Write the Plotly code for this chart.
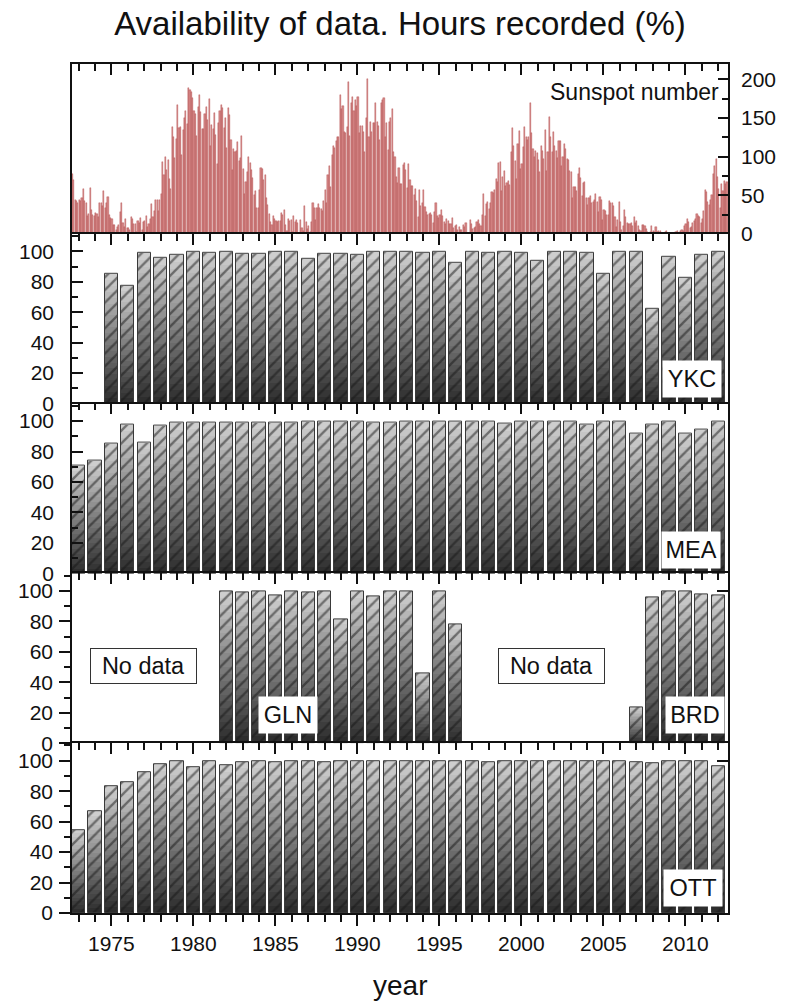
import plotly.graph_objects as go

# ---------------------------------------------------------------------------
# Data
# ---------------------------------------------------------------------------
years = list(range(1973, 2013))

# Hours recorded per year (%) for each observatory (None = no data)
ykc = [None, None, 85.1, 77.6, 99.1, 95.8, 97.4,                       # 1973-1979
       99.6, 98.9, 100.0, 98.3, 98.3, 99.6, 99.6, 95.1, 98.3, 98.5,     # 1980-1989
       97.8, 99.6, 99.6, 100.0, 99.3, 100.0, 92.3, 99.6, 99.1, 99.8,    # 1990-1999
       99.1, 93.9, 99.8, 99.8, 99.3, 85.3, 99.6, 99.6, 62.0, 96.7,      # 2000-2009
       82.7, 97.4, 100.0]                                               # 2010-2012

mea = [71.0, 74.1, 85.5, 98.0, 86.2, 97.2, 99.1,
       99.3, 99.3, 99.3, 99.3, 99.3, 99.3, 99.3, 99.8, 99.8, 99.8,
       99.6, 98.7, 99.3, 99.8, 99.8, 99.8, 99.8, 99.8, 99.6, 98.5,
       99.8, 99.8, 99.8, 99.8, 97.4, 99.8, 99.6, 91.9, 97.6, 99.6,
       91.9, 94.3, 100.0]

gln = [None, None, None, None, None, None, None,
       None, None, 99.5, 99.1, 99.8, 97.3, 100.0, 99.1, 99.8, 81.6,
       99.5, 96.4, 100.0, 100.0, 46.0, 100.0, 78.2, None, None, None,
       None, None, None, None, None, None, None, None, None, None,
       None, None, None]

brd = [None, None, None, None, None, None, None,
       None, None, None, None, None, None, None, None, None, None,
       None, None, None, None, None, None, None, None, None, None,
       None, None, None, None, None, None, None, 23.3, 96.0, 100.0,
       99.8, 97.8, 96.9]

ott = [54.6, 66.8, 83.0, 86.0, 92.6, 97.6, 99.8,
       95.7, 99.8, 97.2, 99.3, 99.8, 99.3, 99.6, 99.6, 99.1, 99.8,
       100.0, 99.6, 99.8, 99.8, 99.6, 99.8, 99.8, 99.8, 99.1, 99.8,
       99.8, 100.0, 99.8, 100.0, 100.0, 99.8, 99.6, 99.3, 98.1, 99.6,
       99.8, 99.8, 96.5]

# Monthly mean sunspot number, starting August 1972
ssn_start_year = 1972
ssn_start_month = 8
sunspot_monthly = [
    77.0, 70.0, 44.0, 42.0, 40.5,                                                  # 1972 Aug-Dec
    43.4, 42.9, 46.0, 57.7, 42.4, 39.5, 23.1, 25.6, 59.3, 30.7, 23.9, 23.3,        # 1973
    27.6, 26.0, 21.3, 40.3, 39.5, 36.0, 55.8, 33.6, 40.2, 47.1, 25.0, 20.5,        # 1974
    18.9, 11.5, 11.5, 5.1, 9.0, 11.4, 28.2, 39.7, 13.9, 9.1, 19.4, 7.8,            # 1975
    8.1, 4.3, 21.9, 18.8, 12.4, 12.2, 1.9, 16.4, 13.5, 20.6, 5.2, 15.3,            # 1976
    16.4, 23.1, 8.7, 12.9, 18.6, 38.5, 21.4, 30.1, 44.0, 43.8, 29.1, 43.2,         # 1977
    51.9, 93.6, 76.5, 99.7, 82.7, 95.1, 70.4, 58.1, 138.2, 125.1, 97.9, 122.7,     # 1978
    166.6, 137.5, 138.0, 101.5, 134.4, 149.5, 159.4, 142.2, 188.4, 186.2, 183.3, 176.3,  # 1979
    159.6, 155.0, 126.2, 164.1, 179.9, 157.3, 136.3, 135.4, 155.0, 164.7, 147.9, 174.4,  # 1980
    114.0, 141.3, 135.5, 156.4, 127.5, 90.0, 143.8, 158.7, 167.3, 162.4, 137.5, 150.1,   # 1981
    111.2, 163.6, 153.8, 122.0, 82.2, 110.4, 106.1, 107.6, 118.8, 94.7, 98.1, 127.0,     # 1982
    84.3, 51.0, 66.5, 80.7, 99.2, 91.1, 82.2, 71.8, 50.3, 55.8, 33.3, 33.4,        # 1983
    57.0, 85.1, 83.5, 69.7, 76.4, 46.1, 37.4, 25.5, 15.7, 12.0, 22.8, 18.7,        # 1984
    16.5, 15.9, 17.2, 16.2, 27.5, 24.2, 30.7, 11.1, 3.9, 18.6, 16.2, 17.3,         # 1985
    2.5, 23.2, 15.1, 18.5, 13.7, 1.1, 18.1, 7.4, 3.8, 35.4, 15.2, 6.8,             # 1986
    10.4, 2.4, 14.7, 39.6, 33.0, 17.4, 33.9, 38.8, 33.3, 31.6, 30.1, 42.4,         # 1987
    57.0, 40.0, 76.2, 88.0, 60.1, 101.8, 113.8, 111.6, 120.1, 125.1, 125.1, 179.2, # 1988
    161.3, 165.1, 131.4, 130.5, 138.5, 196.2, 126.8, 168.9, 176.7, 159.4, 173.0, 165.5,  # 1989
    177.3, 130.5, 140.3, 140.3, 132.2, 105.4, 149.4, 200.3, 125.2, 145.5, 131.4, 143.1,  # 1990
    144.2, 170.0, 145.4, 140.2, 121.3, 169.7, 173.7, 176.3, 125.3, 144.1, 108.2, 144.4,  # 1991
    150.0, 161.1, 106.4, 99.8, 73.6, 65.5, 85.2, 64.1, 63.9, 88.7, 91.8, 82.6,     # 1992
    59.3, 91.0, 69.8, 62.2, 61.3, 49.8, 57.9, 42.2, 22.1, 56.7, 36.5, 39.5,        # 1993
    56.7, 34.2, 28.7, 23.9, 25.4, 27.6, 25.0, 14.3, 28.8, 40.4, 23.1, 20.9,        # 1994
    24.4, 30.6, 22.7, 14.8, 12.3, 18.6, 16.7, 12.2, 12.5, 21.1, 8.0, 10.2,         # 1995
    11.5, 4.4, 9.2, 4.8, 5.5, 11.8, 8.2, 14.4, 1.6, 0.9, 17.9, 13.3,               # 1996
    5.7, 7.6, 8.7, 15.5, 18.5, 12.7, 10.4, 24.4, 51.3, 22.8, 39.0, 41.2,           # 1997
    31.9, 40.3, 54.8, 53.4, 56.3, 70.7, 66.6, 92.2, 92.9, 55.5, 74.0, 81.9,        # 1998
    62.0, 66.3, 68.8, 63.7, 106.4, 137.7, 113.5, 93.7, 71.5, 116.7, 133.2, 84.6,   # 1999
    90.1, 112.9, 138.5, 125.5, 121.6, 124.9, 170.1, 130.5, 109.7, 99.4, 106.8, 104.4,  # 2000
    95.6, 80.6, 113.5, 107.7, 96.6, 134.0, 81.8, 106.4, 150.7, 125.5, 106.5, 132.2,    # 2001
    114.1, 107.4, 98.4, 120.7, 120.8, 88.3, 99.6, 116.4, 109.6, 97.5, 95.5, 80.8,      # 2002
    79.7, 46.0, 61.1, 60.0, 55.2, 77.4, 85.0, 72.7, 48.8, 65.6, 67.2, 46.5,        # 2003
    37.2, 46.0, 48.9, 39.3, 41.5, 43.2, 51.1, 40.9, 27.7, 48.0, 43.5, 17.9,        # 2004
    31.3, 29.2, 24.5, 24.4, 42.6, 39.6, 39.9, 36.4, 22.1, 8.5, 18.0, 41.2,         # 2005
    15.3, 4.9, 10.6, 30.2, 22.3, 13.9, 12.2, 12.9, 14.4, 10.5, 21.4, 13.6,         # 2006
    16.9, 10.6, 4.8, 3.7, 11.7, 12.0, 10.0, 6.2, 2.4, 0.9, 1.7, 10.1,              # 2007
    3.3, 2.1, 9.3, 2.9, 3.2, 3.4, 0.5, 0.5, 1.1, 2.9, 4.1, 0.8,                    # 2008
    1.5, 1.4, 0.7, 1.2, 2.9, 2.6, 3.5, 0.0, 4.2, 4.6, 4.2, 10.6,                   # 2009
    13.1, 18.6, 15.4, 7.9, 8.8, 13.5, 16.1, 19.6, 25.2, 23.5, 21.5, 14.4,          # 2010
    19.1, 29.4, 56.2, 54.4, 41.6, 37.0, 43.9, 50.6, 78.0, 88.0, 96.7, 73.0,        # 2011
    58.3, 33.1, 64.2, 55.2, 69.0, 64.5, 66.5,                                      # 2012 Jan-Jul
]

# ---------------------------------------------------------------------------
# Style
# ---------------------------------------------------------------------------
FONT = "Liberation Sans, Arial, sans-serif"
INK = "#111111"
X_RANGE = [1972.6, 2012.6]
PCT_RANGE = [0, 111.5]
N_BANDS = 22
DARK = (46, 46, 46)
LIGHT = (206, 206, 206)
AXW = 1.6

fig = go.Figure()


def band_color(k):
    t = k / (N_BANDS - 1)
    r, g, b = (round(d + (l - d) * t) for d, l in zip(DARK, LIGHT))
    return f"rgb({r},{g},{b})"


def add_station(values, xa, ya):
    xs = [yr for yr, v in zip(years, values) if v is not None]
    vs = [v for v in values if v is not None]
    # vertical gray gradient built from stacked hatched bands
    for k in range(N_BANDS):
        col = band_color(k)
        fig.add_trace(go.Bar(
            x=xs, y=[v / N_BANDS for v in vs], base=[v * k / N_BANDS for v in vs],
            width=0.8, xaxis=xa, yaxis=ya,
            marker=dict(color=col, line=dict(width=0),
                        pattern=dict(shape="/", fgcolor="#161616", bgcolor=col,
                                     size=9, solidity=0.26)),
            showlegend=False, hoverinfo="skip"))
    # bar outline
    fig.add_trace(go.Bar(
        x=xs, y=vs, base=[0] * len(vs), width=0.8, xaxis=xa, yaxis=ya,
        marker=dict(color="rgba(0,0,0,0)", line=dict(color="#3a3a3a", width=1)),
        showlegend=False, hovertemplate="%{x}: %{y}%<extra></extra>"))


def attach_axis(values, xa, ya):
    # invisible copy of a series so that an overlaying axis gets rendered
    fig.add_trace(go.Scatter(x=years, y=values, xaxis=xa, yaxis=ya, mode="markers",
                             marker=dict(opacity=0, size=1), showlegend=False,
                             hoverinfo="skip"))


# Sunspot panel
ssn_x = []
for i in range(len(sunspot_monthly)):
    m = ssn_start_month - 1 + i
    ssn_x.append(ssn_start_year + m // 12 + ((m % 12) + 0.5) / 12)
fig.add_trace(go.Bar(
    x=ssn_x, y=sunspot_monthly, width=0.85 / 12, xaxis="x", yaxis="y",
    marker=dict(color="#d68686", line=dict(color="#b04c4c", width=0.4)),
    showlegend=False, hovertemplate="%{x:.2f}: %{y}<extra></extra>"))

add_station(ykc, "x2", "y2")
add_station(mea, "x3", "y3")
add_station(gln, "x4", "y4")
add_station(brd, "x4", "y4")
add_station(ott, "x5", "y5")
attach_axis(ott, "x7", "y5")
attach_axis(gln, "x4", "y8")
attach_axis(ott, "x5", "y9")

tickfont = dict(family=FONT, size=21, color=INK)


def xax(side, ticks, labels, anchor, overlaying=None):
    # one frame line per panel boundary: each x axis draws only its own side
    d = dict(range=X_RANGE, anchor=anchor, side=side, domain=[0, 1],
             ticks=ticks, tickmode="linear", tick0=1975, dtick=5, ticklen=11,
             tickwidth=AXW, tickcolor=INK, showticklabels=labels, tickfont=tickfont,
             minor=dict(ticks=ticks, tick0=1975, dtick=1, ticklen=7, tickwidth=AXW,
                        tickcolor=INK, showgrid=False),
             showline=True, linecolor=INK, linewidth=AXW, mirror=False,
             showgrid=False, zeroline=False)
    if overlaying:
        d["overlaying"] = overlaying
    return d


def pct_yaxis(domain, anchor, ticks):
    return dict(domain=domain, anchor=anchor, range=PCT_RANGE, side="left",
                ticks=ticks, tickmode="linear", tick0=0, dtick=20, ticklen=11,
                tickwidth=AXW, tickcolor=INK, tickfont=tickfont,
                ticklabelstandoff=12 if ticks == "inside" else 2,
                minor=dict(ticks=ticks, tick0=0, dtick=10, ticklen=6, tickwidth=AXW,
                           tickcolor=INK, showgrid=False),
                showline=True, linecolor=INK, linewidth=AXW, mirror=True,
                showgrid=False, zeroline=False)


def right_mark(overlaying, anchor):
    return dict(overlaying=overlaying, anchor=anchor, side="right", range=PCT_RANGE,
                tickmode="array", tickvals=[100], ticks="inside", ticklen=11,
                tickwidth=AXW, tickcolor=INK, showticklabels=False,
                showline=False, showgrid=False, zeroline=False)


fig.update_layout(
    width=788, height=1008,
    margin=dict(l=72, r=47, t=64, b=95),
    paper_bgcolor="white", plot_bgcolor="white",
    barmode="overlay", bargap=0,
    font=dict(family=FONT, color=INK),
    title=dict(text="Availability of data. Hours recorded (%)", x=0.5, xref="paper",
               xanchor="center", y=1 - 23 / 1008, yanchor="middle",
               font=dict(family=FONT, size=33, color=INK)),
    # sunspot panel
    xaxis=xax("top", "inside", False, "y"),
    yaxis=dict(domain=[0.8, 1.0], anchor="x", side="right", range=[0, 220],
               ticks="inside", tickmode="linear", tick0=0, dtick=50, ticklen=10,
               tickwidth=AXW, tickcolor=INK, tickfont=tickfont, ticklabelstandoff=7,
               minor=dict(ticks="inside", tick0=0, dtick=25, ticklen=6, tickwidth=AXW,
                          tickcolor=INK, showgrid=False),
               showline=True, linecolor=INK, linewidth=AXW, mirror=True,
               showgrid=False, zeroline=False),
    yaxis6=dict(overlaying="y", anchor="x", side="left", range=[0, 220],
                ticks="inside", tickmode="linear", tick0=0, dtick=20, ticklen=11,
                tickwidth=AXW, tickcolor=INK, showticklabels=False,
                showline=False, showgrid=False, zeroline=False),
    # station panels
    xaxis2=xax("top", "inside", False, "y2"),
    yaxis2=pct_yaxis([0.6, 0.8], "x2", "inside"),
    xaxis3=xax("top", "inside", False, "y3"),
    yaxis3=pct_yaxis([0.4, 0.6], "x3", "inside"),
    xaxis4=xax("top", "inside", False, "y4"),
    yaxis4=pct_yaxis([0.2, 0.4], "x4", "outside"),
    yaxis8=right_mark("y4", "x4"),
    xaxis5=xax("bottom", "outside", True, "y5"),
    yaxis5=pct_yaxis([0.0, 0.2], "x5", "outside"),
    yaxis9=right_mark("y5", "x5"),
    xaxis7=xax("top", "inside", False, "y5", overlaying="x5"),
)

label_font = dict(family=FONT, size=23.5, color=INK)


def station_label(text, x, y, xref, yref):
    fig.add_annotation(text=text, x=x, y=y, xref=xref, yref=yref, showarrow=False,
                       xanchor="center", yanchor="middle", font=label_font,
                       bgcolor="white", width=54, height=32, borderpad=2)


def no_data_box(x, y, xref, yref):
    fig.add_annotation(text="No data", x=x, y=y, xref=xref, yref=yref, showarrow=False,
                       xanchor="center", yanchor="middle", font=label_font,
                       bgcolor="white", bordercolor="#333333", borderwidth=1,
                       width=101, height=30, borderpad=2)


station_label("YKC", 2010.42, 15.9, "x2", "y2")
station_label("MEA", 2010.36, 15.4, "x3", "y3")
station_label("GLN", 1985.8, 18.5, "x4", "y4")
station_label("BRD", 2010.6, 18.2, "x4", "y4")
station_label("OTT", 2010.46, 16.4, "x5", "y5")
no_data_box(1976.97, 50.5, "x4", "y4")
no_data_box(2001.83, 51.0, "x4", "y4")

fig.add_annotation(text="Sunspot number", x=2006.9, y=184, xref="x", yref="y",
                   showarrow=False, xanchor="center", yanchor="middle",
                   font=dict(family=FONT, size=23, color=INK))
fig.add_annotation(text="year", x=0.5, y=-72 / 849, xref="paper", yref="paper",
                   showarrow=False, xanchor="center", yanchor="middle",
                   font=dict(family=FONT, size=28, color=INK))

fig.write_html("out.html")
